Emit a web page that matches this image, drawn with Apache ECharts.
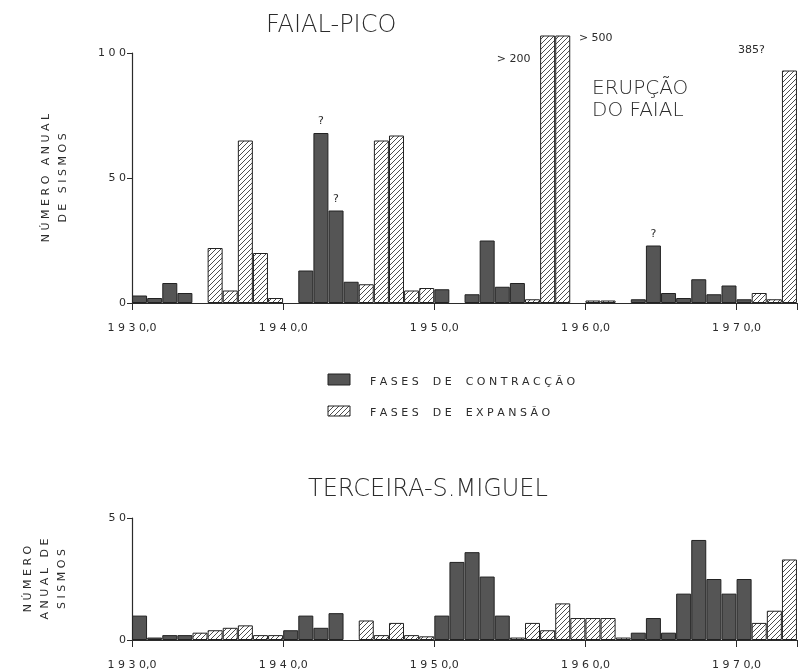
<!DOCTYPE html>
<html>
<head>
<meta charset="utf-8">
<script src="https://cdn.jsdelivr.net/npm/echarts@6/dist/echarts.min.js"></script>
<style>
  html, body { margin: 0; padding: 0; background: #fff; }
  #chart { width: 806px; height: 671px; }
</style>
</head>
<body>
<div id="chart"></div>
<script>
// years run 1930..1973, each bar spans [year, year+1]
var faialContraction = [[1930, 3], [1931, 2], [1932, 8], [1933, 4], [1941, 13], [1942, 68], [1943, 37], [1944, 8.5],
  [1950, 5.5], [1952, 3.5], [1953, 25], [1954, 6.5], [1955, 8], [1963, 1.5], [1964, 23], [1965, 4], [1966, 2],
  [1967, 9.5], [1968, 3.5], [1969, 7], [1970, 1.5]];
var faialExpansion = [[1935, 22], [1936, 5], [1937, 65], [1938, 20], [1939, 2], [1945, 7.5], [1946, 65], [1947, 67],
  [1948, 5], [1949, 6], [1956, 1.5], [1957, 107], [1958, 107], [1960, 1], [1961, 1], [1971, 4], [1972, 1.5], [1973, 93]];
var faialQuestion = [1942, 1943, 1964];
var faialNotes = { 1957: '> 200', 1958: '> 500', 1973: '385?' };

var terceiraContraction = [[1930, 10], [1931, 1], [1932, 2], [1933, 2], [1940, 4], [1941, 10], [1942, 5], [1943, 11],
  [1950, 10], [1951, 32], [1952, 36], [1953, 26], [1954, 10], [1963, 3], [1964, 9], [1965, 3], [1966, 19],
  [1967, 41], [1968, 25], [1969, 19], [1970, 25]];
var terceiraExpansion = [[1934, 3], [1935, 4], [1936, 5], [1937, 6], [1938, 2], [1939, 2], [1945, 8], [1946, 2],
  [1947, 7], [1948, 2], [1949, 1.5], [1955, 1], [1956, 7], [1957, 4], [1958, 15], [1959, 9], [1960, 9], [1961, 9],
  [1962, 1], [1971, 7], [1972, 12], [1973, 33]];

var xTicks = [1930, 1940, 1950, 1960, 1970];

var FONT = 'DejaVu Sans';
var INK = '#2b2b2b';
var DARK = '#555555';

// diagonal hatch for the expansion phases
function hatch() {
  var c = document.createElement('canvas');
  c.width = 5; c.height = 5;
  var ctx = c.getContext('2d');
  ctx.fillStyle = '#fff';
  ctx.fillRect(0, 0, 5, 5);
  ctx.strokeStyle = '#3a3a3a';
  ctx.lineWidth = 0.9;
  ctx.beginPath();
  ctx.moveTo(0, 5); ctx.lineTo(5, 0);
  ctx.moveTo(-1, 1); ctx.lineTo(1, -1);
  ctx.moveTo(4, 6); ctx.lineTo(6, 4);
  ctx.stroke();
  return c;
}
var hatchFill = { image: hatch(), repeat: 'repeat' };

function spaced(s) { return s.split('').join(' '); }

var noteOffsets = { 1957: [-34, 34], 1958: [33, 13], 1973: [-38, -10] };

function toItems(arr, question, notes) {
  return arr.map(function (d) {
    var item = { value: [d[0] + 0.5, d[1]] };
    if (question && question.indexOf(d[0]) >= 0) {
      item.label = { show: true, position: 'top', formatter: '?', distance: 6 };
    }
    if (notes && notes[d[0]]) {
      item.label = { show: true, position: 'top', formatter: notes[d[0]], offset: noteOffsets[d[0]] };
    }
    return item;
  });
}

var chart = echarts.init(document.getElementById('chart'));

function xAxis(idx) {
  return {
    type: 'value', gridIndex: idx, min: 1930, max: 1974, interval: 10,
    splitLine: { show: false },
    axisLine: { lineStyle: { color: INK, width: 1.2 } },
    axisTick: { length: 7, lineStyle: { color: INK } },
    axisLabel: {
      color: INK, fontFamily: FONT, fontSize: 11, margin: 20,
      formatter: function (v) { return xTicks.indexOf(v) >= 0 ? spaced(String(v)) + ',0' : ''; }
    }
  };
}

function yAxis(idx, max, name, gap) {
  return {
    type: 'value', gridIndex: idx, min: 0, max: max, interval: 50,
    splitLine: { show: false },
    axisLine: { show: true, lineStyle: { color: INK, width: 1.2 } },
    axisTick: { show: true, length: 5, lineStyle: { color: INK } },
    axisLabel: { color: INK, fontFamily: FONT, fontSize: 11, margin: 6, formatter: function (v) { return spaced(String(v)); } },
    name: name, nameLocation: 'middle', nameRotate: 90, nameGap: gap,
    nameTextStyle: { color: INK, fontFamily: FONT, fontSize: 11, lineHeight: 17, align: 'center' }
  };
}

var labelStyle = { color: INK, fontFamily: FONT, fontSize: 11 };

function barSeries(idx, data, fill, name) {
  return {
    type: 'bar', name: name, xAxisIndex: idx, yAxisIndex: idx,
    data: data, barWidth: 15, barGap: '-100%', clip: false,
    itemStyle: { color: fill, borderColor: '#222', borderWidth: 1 },
    label: labelStyle
  };
}

chart.setOption({
  animation: false,
  backgroundColor: '#fff',
  grid: [
    { left: 132, right: 9, top: 53, bottom: 368 },
    { left: 132, right: 9, top: 518, bottom: 30 }
  ],
  xAxis: [xAxis(0), xAxis(1)],
  yAxis: [
    yAxis(0, 100, spaced('NÚMERO') + '   ' + spaced('ANUAL') + '\n' + spaced('DE') + '   ' + spaced('SISMOS'), 60),
    yAxis(1, 50, spaced('NÚMERO') + '\n' + spaced('ANUAL') + '   ' + spaced('DE') + '\n' + spaced('SISMOS'), 61)
  ],
  series: [
    barSeries(0, toItems(faialContraction, faialQuestion), DARK, 'FASES DE CONTRACÇÃO'),
    barSeries(0, toItems(faialExpansion, null, faialNotes), hatchFill, 'FASES DE EXPANSÃO'),
    barSeries(1, toItems(terceiraContraction), DARK, 'FASES DE CONTRACÇÃO'),
    barSeries(1, toItems(terceiraExpansion), hatchFill, 'FASES DE EXPANSÃO')
  ],
  graphic: [
    { type: 'text', x: 266, y: 14, style: { text: 'FAIAL-PICO', font: '300 24px ' + FONT, fill: INK } },
    { type: 'text', x: 592, y: 78, style: { text: 'ERUPÇÃO\nDO FAIAL', font: '300 20px ' + FONT, fill: INK, lineHeight: 22 } },
    { type: 'text', x: 308, y: 478, style: { text: 'TERCEIRA-S.MIGUEL', font: '300 24px ' + FONT, fill: INK } },
    { type: 'rect', shape: { x: 328, y: 374, width: 22, height: 11 }, style: { fill: DARK, stroke: '#222' } },
    { type: 'text', x: 370, y: 377, style: { text: 'F A S E S    D E    C O N T R A C Ç Ã O', font: '11px ' + FONT, fill: INK } },
    { type: 'rect', shape: { x: 328, y: 406, width: 22, height: 10 }, style: { fill: hatchFill, stroke: '#222' } },
    { type: 'text', x: 370, y: 408, style: { text: 'F A S E S    D E    E X P A N S Ã O', font: '11px ' + FONT, fill: INK } }
  ]
});
</script>
</body>
</html>
